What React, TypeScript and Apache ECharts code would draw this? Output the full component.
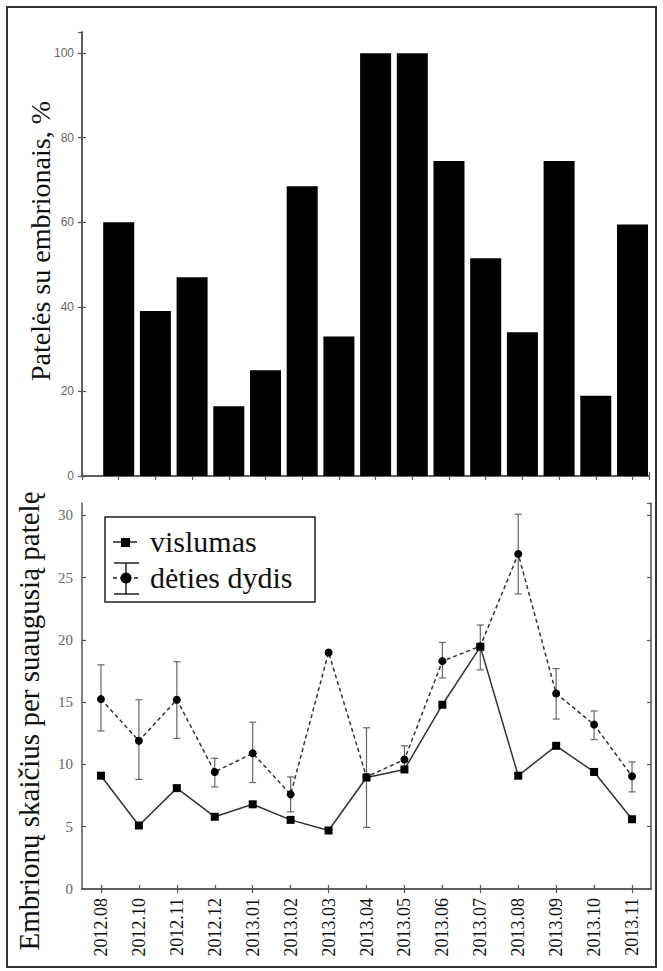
import React, { useEffect, useRef } from "react";
import * as echarts from "echarts";

const months = ["2012.08", "2012.10", "2012.11", "2012.12", "2013.01", "2013.02", "2013.03", "2013.04", "2013.05", "2013.06", "2013.07", "2013.08", "2013.09", "2013.10", "2013.11"];
const femalesWithEmbryosPct = [60, 39, 47, 16.5, 25, 68.5, 33, 100, 100, 74.5, 51.5, 34, 74.5, 19, 59.5];
const vislumas = [9.1, 5.1, 8.1, 5.8, 6.8, 5.55, 4.7, 8.95, 9.6, 14.8, 19.45, 9.1, 11.5, 9.4, 5.6];
const detiesDydis = [15.25, 11.9, 15.2, 9.4, 10.9, 7.6, 19.0, 9.0, 10.4, 18.3, 19.5, 26.9, 15.7, 13.2, 9.05];
const errLow: (number | null)[] = [12.7, 8.8, 12.1, 8.2, 8.55, 6.2, null, 4.95, 9.6, 16.95, 17.6, 23.7, 13.65, 12.0, 7.8];
const errHigh: (number | null)[] = [18.0, 15.2, 18.25, 10.5, 13.4, 9.0, null, 12.95, 11.5, 19.8, 21.2, 30.1, 17.7, 14.3, 10.2];
const topTicks = [0, 20, 40, 60, 80, 100];
const bottomTicks = [0, 5, 10, 15, 20, 25, 30];
const legendNames = ["vislumas", "dėties dydis"];

const AXIS = "#555";
const SERIF = "Times New Roman, Liberation Serif, serif";
const SANS = "Liberation Sans, sans-serif";

export default function App() {
  const ref = useRef<HTMLDivElement>(null);
  useEffect(() => {
    if (!ref.current) return;
    const chart = echarts.init(ref.current, null, { renderer: "svg" });
    const axisLine = { show: true, lineStyle: { color: AXIS, width: 1.5 } };
    const tick = { show: true, inside: true, length: 4, lineStyle: { color: AXIS, width: 1.2 } };
    const barData = femalesWithEmbryosPct.map((v, i) => [i + 1, v]);
    const errData = months.map((m, i) => [i, errLow[i], errHigh[i]]).filter((d) => d[1] != null);

    const option: any = {
      animation: false,
      backgroundColor: "#fff",
      grid: [
        { left: 82, top: 32, width: 567, height: 444 },
        { left: 82, top: 503, width: 569, height: 386 },
      ],
      xAxis: [
        { type: "value", gridIndex: 0, min: 0, max: 15.45, interval: 1, position: "bottom", axisLine, axisTick: tick, axisLabel: { show: false }, splitLine: { show: false } },
        { type: "value", gridIndex: 0, min: 0, max: 15.45, interval: 1, position: "top", axisLine, axisTick: tick, axisLabel: { show: false }, splitLine: { show: false } },
        {
          type: "category", gridIndex: 1, data: months, position: "bottom", boundaryGap: true, axisLine,
          axisTick: { ...tick, alignWithLabel: true },
          axisLabel: { rotate: 90, margin: 9, fontFamily: SERIF, fontSize: 18, color: "#111", interval: 0 },
        },
        { type: "category", gridIndex: 1, data: months, position: "top", boundaryGap: true, axisLine, axisTick: { ...tick, alignWithLabel: true }, axisLabel: { show: false } },
      ],
      yAxis: [
        { type: "value", gridIndex: 0, min: 0, max: 105, interval: 20, position: "left", axisLine, axisTick: tick, splitLine: { show: false },
          axisLabel: { showMaxLabel: false, margin: 8, fontFamily: SANS, fontSize: 12, color: "#666", formatter: (v: number) => (topTicks.includes(v) ? String(v) : "") } },
        { type: "value", gridIndex: 0, min: 0, max: 105, interval: 20, position: "right", axisLine, axisTick: tick, splitLine: { show: false }, axisLabel: { show: false } },
        { type: "value", gridIndex: 1, min: 0, max: 31, interval: 5, position: "left", axisLine, axisTick: tick, splitLine: { show: false },
          axisLabel: { showMaxLabel: false, margin: 9, fontFamily: SERIF, fontSize: 15, color: "#666", formatter: (v: number) => (bottomTicks.includes(v) ? String(v) : "") } },
        { type: "value", gridIndex: 1, min: 0, max: 31, interval: 5, position: "right", axisLine, axisTick: tick, splitLine: { show: false }, axisLabel: { show: false } },
      ],
      series: [
        { type: "bar", xAxisIndex: 0, yAxisIndex: 0, data: barData, barWidth: 31, itemStyle: { color: "#000" } },
        {
          type: "custom", xAxisIndex: 2, yAxisIndex: 2, data: errData, encode: { x: 0, y: [1, 2] }, z: 2,
          renderItem: (params: any, api: any) => {
            const i = api.value(0);
            const lo = api.coord([i, api.value(1)]);
            const hi = api.coord([i, api.value(2)]);
            const hw = 3.5;
            const st = { stroke: "#666", lineWidth: 1.2 };
            return {
              type: "group",
              children: [
                { type: "line", shape: { x1: lo[0], y1: lo[1], x2: hi[0], y2: hi[1] }, style: st },
                { type: "line", shape: { x1: lo[0] - hw, y1: lo[1], x2: lo[0] + hw, y2: lo[1] }, style: st },
                { type: "line", shape: { x1: hi[0] - hw, y1: hi[1], x2: hi[0] + hw, y2: hi[1] }, style: st },
              ],
            };
          },
        },
        {
          type: "line", name: legendNames[1], xAxisIndex: 2, yAxisIndex: 2, data: detiesDydis, z: 3,
          symbol: "circle", symbolSize: 8, itemStyle: { color: "#000" },
          lineStyle: { color: "#333", width: 1.5, type: [4, 3] },
        },
        {
          type: "line", name: legendNames[0], xAxisIndex: 2, yAxisIndex: 2, data: vislumas, z: 4,
          symbol: "rect", symbolSize: 8, itemStyle: { color: "#000" },
          lineStyle: { color: "#333", width: 1.5 },
        },
      ],
      graphic: [
        { type: "rect", shape: { x: 7, y: 7, width: 649, height: 960 }, style: { fill: "none", stroke: "#333", lineWidth: 2 }, silent: true },
        { type: "text", x: 40, y: 241, rotation: Math.PI / 2, style: { text: "Patelės su embrionais, %", fontFamily: SERIF, fontSize: 28, fill: "#111", textAlign: "center", textVerticalAlign: "middle" } },
        { type: "text", x: 29, y: 721, rotation: Math.PI / 2, style: { text: "Embrionų skaičius per suaugusią patelę", fontFamily: SERIF, fontSize: 29, fill: "#111", textAlign: "center", textVerticalAlign: "middle" } },
        { type: "rect", shape: { x: 105, y: 517, width: 210, height: 85 }, style: { fill: "#fff", stroke: "#222", lineWidth: 1.5 }, z: 10 },
        { type: "line", shape: { x1: 113, y1: 542, x2: 137, y2: 542 }, style: { stroke: "#222", lineWidth: 1.5 }, z: 11 },
        { type: "rect", shape: { x: 121, y: 538, width: 9, height: 9 }, style: { fill: "#000" }, z: 11 },
        { type: "text", x: 150, y: 541, z: 11, style: { text: legendNames[0], fontFamily: SERIF, fontSize: 30, fill: "#111", textAlign: "left", textVerticalAlign: "middle" } },
        { type: "line", shape: { x1: 126, y1: 563, x2: 126, y2: 594 }, style: { stroke: "#222", lineWidth: 1.5 }, z: 11 },
        { type: "line", shape: { x1: 114, y1: 563, x2: 139, y2: 563 }, style: { stroke: "#222", lineWidth: 1.5 }, z: 11 },
        { type: "line", shape: { x1: 114, y1: 594, x2: 139, y2: 594 }, style: { stroke: "#222", lineWidth: 1.5 }, z: 11 },
        { type: "line", shape: { x1: 113, y1: 578, x2: 138, y2: 578 }, style: { stroke: "#222", lineWidth: 1.5, lineDash: [4, 3] }, z: 11 },
        { type: "circle", shape: { cx: 126, cy: 578, r: 5.5 }, style: { fill: "#000" }, z: 12 },
        { type: "text", x: 150, y: 577, z: 11, style: { text: legendNames[1], fontFamily: SERIF, fontSize: 30, fill: "#111", textAlign: "left", textVerticalAlign: "middle" } },
      ],
    };
    chart.setOption(option);
    return () => chart.dispose();
  }, []);
  return <div ref={ref} style={{ position: "fixed", left: 0, top: 0, width: 663, height: 971, background: "#fff" }} />;
}
